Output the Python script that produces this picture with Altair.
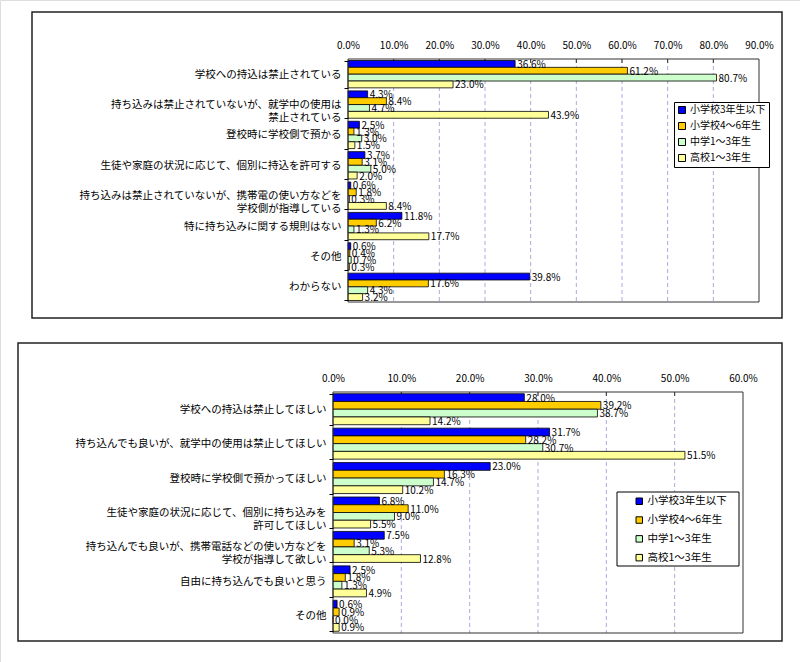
import altair as alt
import pandas as pd

FONT = "Noto Sans CJK JP"

series = ["小学校3年生以下", "小学校4～6年生", "中学1～3年生", "高校1～3年生"]
colors = ["#0000FF", "#FFCC00", "#CCFFCC", "#FFFF99"]

cats_top = [
    "学校への持込は禁止されている",
    "持ち込みは禁止されていないが、就学中の使用は\n禁止されている",
    "登校時に学校側で預かる",
    "生徒や家庭の状況に応じて、個別に持込を許可する",
    "持ち込みは禁止されていないが、携帯電の使い方などを\n学校側が指導している",
    "特に持ち込みに関する規則はない",
    "その他",
    "わからない",
]
top_s1 = [36.6, 4.3, 2.5, 3.7, 0.6, 11.8, 0.6, 39.8]
top_s2 = [61.2, 8.4, 1.3, 3.1, 1.8, 6.2, 0.4, 17.6]
top_s3 = [80.7, 4.7, 3.0, 5.0, 0.3, 1.3, 0.7, 4.3]
top_s4 = [23.0, 43.9, 1.5, 2.0, 8.4, 17.7, 0.3, 3.2]
top_ticks = [0, 10, 20, 30, 40, 50, 60, 70, 80, 90]

cats_bot = [
    "学校への持込は禁止してほしい",
    "持ち込んでも良いが、就学中の使用は禁止してほしい",
    "登校時に学校側で預かってほしい",
    "生徒や家庭の状況に応じて、個別に持ち込みを\n許可してほしい",
    "持ち込んでも良いが、携帯電話などの使い方などを\n学校が指導して欲しい",
    "自由に持ち込んでも良いと思う",
    "その他",
]
bot_s1 = [28.0, 31.7, 23.0, 6.8, 7.5, 2.5, 0.6]
bot_s2 = [39.2, 28.2, 16.3, 11.0, 3.1, 1.8, 0.9]
bot_s3 = [38.7, 30.7, 14.7, 9.0, 5.3, 1.3, 0.0]
bot_s4 = [14.2, 51.5, 10.2, 5.5, 12.8, 4.9, 0.9]
bot_ticks = [0, 10, 20, 30, 40, 50, 60]


def make_df(cats, vals):
    rows = []
    for s, vs in zip(series, vals):
        for c, v in zip(cats, vs):
            rows.append({"category": c, "series": s, "value": v, "label": f"{v:.1f}%"})
    return pd.DataFrame(rows)


def one_row():
    return pd.DataFrame({"a": [0]})


def panel(cats, vals, ticks, xr, yr, box, leg, leg_style, leg_box=None):
    df = make_df(cats, vals)
    xmax = ticks[-1]
    xscale = alt.Scale(domain=[0, xmax], range=xr, nice=False, zero=True)
    yscale = alt.Scale(domain=cats, range=yr, paddingInner=0.1, paddingOuter=0.05)
    oscale = alt.Scale(domain=series, paddingInner=0, paddingOuter=0)

    xaxis = alt.Axis(
        orient="top", offset=-yr[0], values=ticks, title=None,
        labelExpr="format(datum.value, '.1f') + '%'",
        domain=False, ticks=False, grid=False, labelPadding=9,
        labelFont=FONT, labelFontSize=10, labelColor="black",
        labelFlush=False, labelOverlap=False, zindex=2,
    )
    yaxis = alt.Axis(
        orient="left", offset=-xr[0], title=None, domain=False,
        ticks=True, tickBand="extent", tickSize=4, tickColor="black",
        labelPadding=3, labelLimit=0, labelFont=FONT, labelFontSize=10.5,
        labelColor="black", labelExpr="split(datum.label, '\\n')",
        labelLineHeight=12.5, zindex=2,
    )
    legend_kw = dict(
        orient="none", legendX=leg[0], legendY=leg[1], title=None,
        direction="vertical", padding=leg_style["padding"], symbolType="square",
        symbolSize=leg_style["symbolSize"], symbolStrokeColor="black",
        symbolStrokeWidth=1, labelFont=FONT, labelFontSize=leg_style["fontSize"],
        labelColor="black", rowPadding=leg_style["rowPadding"], labelOffset=3,
        zindex=3,
    )
    if leg_box is None:
        legend_kw.update(strokeColor="black", fillColor="white")
    legend = alt.Legend(**legend_kw)

    frame = alt.Chart(one_row()).mark_rect(
        fillOpacity=0, stroke="#222222", strokeWidth=1.5
    ).encode(x=alt.value(box[0]), x2=alt.value(box[2]), y=alt.value(box[1]), y2=alt.value(box[3]))

    grid = alt.Chart(pd.DataFrame({"value": ticks[1:-1]})).mark_rule(
        color="#aaaadd", strokeDash=[4, 3], strokeWidth=1
    ).encode(
        x=alt.X("value:Q", scale=xscale, axis=xaxis),
        y=alt.value(yr[0]),
        y2=alt.value(yr[1]),
    )
    tickmarks = alt.Chart(pd.DataFrame({"value": ticks[1:-1]})).mark_rule(
        color="#333333", strokeWidth=1
    ).encode(
        x=alt.X("value:Q", scale=xscale, axis=xaxis),
        y=alt.value(yr[0]),
        y2=alt.value(yr[0] + 4),
    )

    base = alt.Chart(df)
    bars = base.mark_bar(stroke="black", strokeWidth=0.8).encode(
        x=alt.X("value:Q", scale=xscale, axis=xaxis),
        y=alt.Y("category:N", scale=yscale, axis=yaxis, sort=cats),
        yOffset=alt.YOffset("series:N", scale=oscale, sort=series),
        color=alt.Color("series:N", scale=alt.Scale(domain=series, range=colors), legend=legend, sort=series),
    )
    texts = base.mark_text(
        align="left", baseline="middle", dx=2, dy=1, font=FONT, fontSize=10, color="black"
    ).encode(
        x=alt.X("value:Q", scale=xscale, axis=xaxis),
        y=alt.Y("category:N", scale=yscale, axis=yaxis, sort=cats),
        yOffset=alt.YOffset("series:N", scale=oscale, sort=series),
        text="label:N",
    )
    border = alt.Chart(one_row()).mark_rect(
        fillOpacity=0, stroke="#333333", strokeWidth=1
    ).encode(x=alt.value(xr[0]), x2=alt.value(xr[1]), y=alt.value(yr[0]), y2=alt.value(yr[1]))

    layers = [frame, grid, tickmarks, bars, texts, border]
    if leg_box is not None:
        lb = alt.Chart(one_row()).mark_rect(
            fill="white", stroke="black", strokeWidth=1
        ).encode(x=alt.value(leg_box[0]), x2=alt.value(leg_box[2]),
                 y=alt.value(leg_box[1]), y2=alt.value(leg_box[3]))
        layers.append(lb)
    return alt.layer(*layers)


top = panel(
    cats_top, [top_s1, top_s2, top_s3, top_s4], top_ticks,
    xr=[348, 759], yr=[59, 302], box=[32, 12, 782, 318], leg=[674, 102],
    leg_style={"padding": 3, "symbolSize": 49, "fontSize": 10, "rowPadding": 4},
)
bottom = panel(
    cats_bot, [bot_s1, bot_s2, bot_s3, bot_s4], bot_ticks,
    xr=[333, 743], yr=[392, 633], box=[18, 343, 782, 641], leg=[634, 496],
    leg_style={"padding": 0, "symbolSize": 42, "fontSize": 10.5, "rowPadding": 7.8},
    leg_box=[617, 492, 739, 566],
)

chart = alt.layer(top, bottom).resolve_scale(
    x="independent", y="independent", yOffset="independent", color="independent"
).properties(
    width=800, height=662, padding=0,
    autosize=alt.AutoSizeParams(type="none"),
).configure_view(strokeWidth=0).configure(background="white")

chart.save("out.html", embed_options={"renderer": "svg", "actions": False})
